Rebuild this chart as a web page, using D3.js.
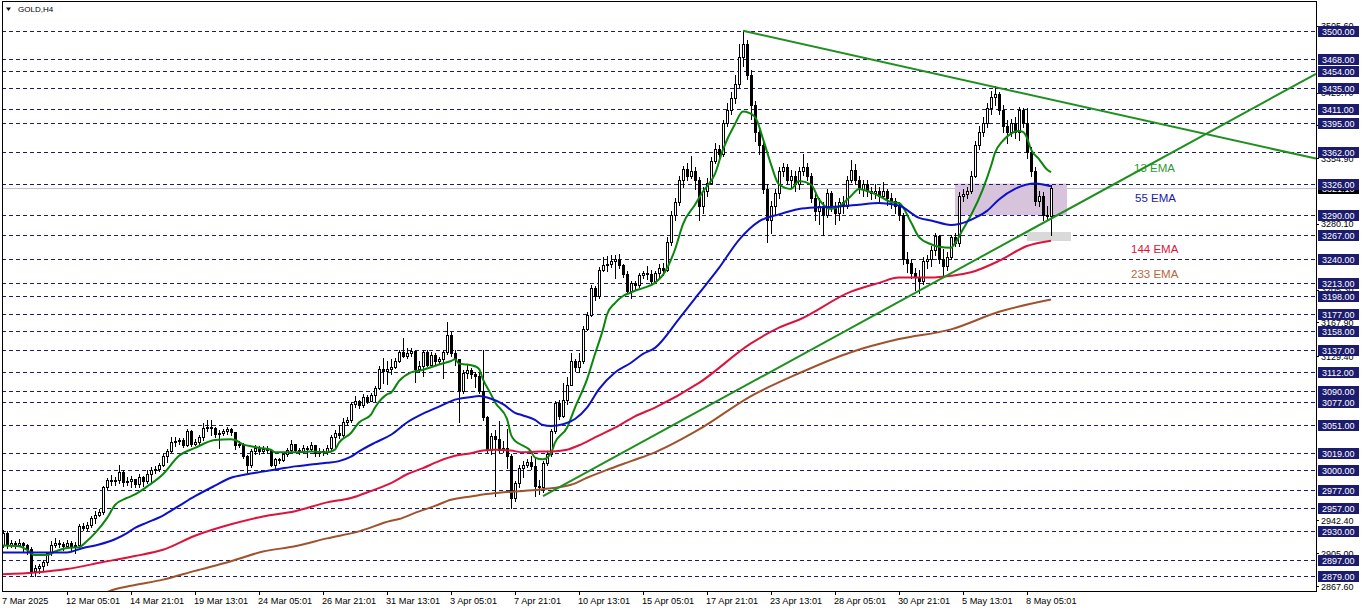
<!DOCTYPE html>
<html><head><meta charset="utf-8">
<script src="https://cdn.jsdelivr.net/npm/d3@7"></script>
<style>html,body{margin:0;padding:0;background:#fff;overflow:hidden}svg{display:block}</style>
</head><body>
<svg id="c" width="1362" height="611"></svg>
<script>
const symbolLabel = "GOLD,H4";
const firstOpen = 2915;
const closes = [
2928,2914,2917,2915,2917,2914,2910,2885,2888,2890,
2895,2905,2915,2917,2916,2913,2917,2913,2915,2936,
2934,2937,2945,2949,2952,2980,2989,2987,2988,2998,
2986,2987,2990,2984,2992,2987,2995,3000,3001,3006,
3016,3021,3032,3033,3034,3028,3044,3029,3032,3037,
3048,3049,3048,3041,3042,3044,3046,3043,3028,3030,
3016,3005,3022,3025,3021,3024,3023,3006,3012,3011,
3018,3023,3029,3023,3021,3025,3024,3028,3019,3022,
3020,3025,3038,3042,3040,3054,3057,3075,3078,3074,
3083,3079,3085,3093,3115,3113,3115,3117,3124,3134,
3130,3133,3135,3115,3118,3134,3120,3131,3124,3126,
3134,3154,3133,3126,3090,3110,3114,3109,3107,3090,
3060,3023,3039,3035,3023,3025,3016,2968,2985,3002,
3006,3009,3004,2982,2980,3008,3018,3044,3076,3061,
3080,3097,3124,3117,3124,3161,3176,3207,3198,3228,
3233,3234,3238,3240,3233,3223,3204,3213,3210,3222,
3224,3223,3215,3224,3230,3228,3260,3290,3305,3330,
3343,3335,3340,3330,3300,3318,3327,3352,3365,3360,
3395,3410,3424,3440,3470,3485,3450,3415,3385,3370,
3320,3285,3300,3315,3340,3345,3330,3335,3325,3340,
3345,3335,3310,3295,3300,3290,3315,3300,3292,3305,
3300,3330,3342,3330,3320,3325,3318,3315,3318,3312,
3318,3310,3306,3300,3290,3240,3236,3224,3220,3215,
3238,3240,3250,3266,3240,3232,3243,3265,3258,3312,
3314,3318,3335,3370,3385,3395,3412,3425,3428,3410,
3392,3385,3395,3385,3410,3395,3362,3340,3306,3312,
3290,3289,3321];
const highs = [
2931,2930,2920,2919,2921,2918,2916,2912,2892,2893,
2897,2907,2919,2922,2920,2918,2920,2919,2918,2938,
2940,2941,2948,2953,2956,2982,2991,2994,2992,3005,
3000,2992,2993,2990,2995,2993,3000,3003,3004,3008,
3018,3024,3038,3038,3036,3036,3046,3045,3035,3040,
3053,3057,3057,3049,3045,3047,3049,3048,3042,3033,
3031,3017,3024,3028,3027,3027,3027,3023,3014,3014,
3020,3025,3034,3030,3025,3028,3027,3032,3027,3025,
3024,3028,3040,3045,3051,3059,3060,3077,3084,3080,
3086,3085,3088,3096,3118,3127,3124,3126,3127,3136,
3150,3139,3139,3137,3124,3136,3136,3134,3133,3129,
3136,3168,3157,3136,3125,3114,3120,3116,3111,3110,
3137,3061,3042,3045,3056,3033,3046,3018,2987,3005,
3010,3012,3016,3014,2988,3010,3020,3046,3079,3080,
3099,3106,3133,3126,3133,3164,3180,3210,3209,3231,
3243,3244,3245,3245,3246,3235,3227,3215,3215,3224,
3227,3232,3228,3227,3234,3236,3265,3295,3310,3335,
3346,3350,3357,3345,3334,3322,3332,3356,3372,3370,
3398,3418,3430,3450,3485,3500,3490,3455,3420,3392,
3375,3325,3306,3320,3345,3350,3348,3342,3340,3345,
3360,3350,3338,3315,3310,3305,3320,3318,3305,3310,
3312,3335,3353,3348,3335,3330,3330,3322,3325,3322,
3328,3320,3315,3310,3305,3292,3248,3240,3230,3228,
3242,3245,3255,3270,3268,3252,3248,3268,3270,3316,
3320,3322,3340,3375,3392,3402,3418,3432,3437,3430,
3415,3398,3400,3402,3413,3412,3412,3368,3345,3318,
3316,3300,3324];
const lows = [
2912,2911,2912,2911,2913,2908,2904,2880,2879,2882,
2886,2892,2903,2912,2912,2909,2912,2909,2905,2913,
2931,2932,2935,2940,2947,2950,2978,2983,2983,2985,
2982,2983,2980,2981,2981,2982,2985,2986,2996,2999,
3004,3009,3020,3027,3030,3026,3027,3027,3028,3030,
3034,3044,3040,3038,3025,3040,3041,3040,3024,3026,
3014,2998,3003,3018,3018,3019,3019,3004,3002,3008,
3010,3016,3021,3020,3018,3019,3015,3022,3016,3016,
3017,3018,3022,3026,3036,3038,3051,3055,3072,3071,
3072,3076,3078,3078,3092,3099,3098,3109,3116,3123,
3128,3127,3130,3100,3112,3107,3118,3117,3121,3122,
3105,3132,3130,3120,3054,3088,3105,3105,3094,3088,
3057,3020,3018,2970,3020,3020,3002,2957,2964,2980,
2992,3003,3001,2970,2972,2975,3006,3016,3042,3058,
3060,3075,3098,3113,3112,3122,3159,3175,3194,3196,
3226,3227,3231,3219,3230,3220,3200,3196,3206,3208,
3219,3217,3212,3213,3220,3222,3226,3256,3284,3302,
3322,3330,3332,3320,3284,3292,3312,3325,3350,3352,
3358,3392,3405,3418,3436,3460,3445,3400,3375,3360,
3315,3260,3270,3290,3310,3335,3325,3322,3318,3320,
3336,3330,3305,3285,3280,3268,3288,3295,3280,3285,
3292,3298,3328,3325,3315,3312,3312,3308,3310,3305,
3310,3302,3298,3292,3285,3235,3225,3218,3205,3202,
3212,3230,3232,3245,3236,3222,3228,3240,3255,3255,
3306,3310,3315,3333,3365,3380,3390,3405,3415,3405,
3385,3372,3380,3378,3376,3390,3355,3335,3302,3300,
3284,3284,3268];

const timeLabelIdx = [0,16,32,48,64,80,96,112,128,144,160,176,192,208,224,240,256];
const timeLabels = ["7 Mar 2025","12 Mar 05:01","14 Mar 21:01","19 Mar 13:01","24 Mar 05:01","26 Mar 21:01","31 Mar 13:01","3 Apr 05:01","7 Apr 21:01","10 Apr 13:01","15 Apr 05:01","17 Apr 21:01","23 Apr 13:01","28 Apr 05:01","30 Apr 21:01","5 May 13:01","8 May 05:01"];

// scale labels that are not fully covered by the level boxes
const priceTicks = [3505.6,3429.7,3392.3,3354.9,3280.1,3205.3,3167.9,3129.4,2942.4,2905.0,2867.6];
const priceLevels = [3500,3468,3454,3435,3411,3395,3362,3326,3290,3267,3240,3213,3198,3177,3158,3137,3112,3090,3077,3051,3019,3000,2977,2957,2930,2897,2879];
const bidPrice = 3321.1;

const ema13 = [[0,2914],[4,2913],[6,2909],[8,2903],[11,2903],[13,2907],[16,2911],[19,2912],[21,2919],[23,2928],[26,2945],[28,2960],[31,2968],[33,2972],
[36,2981],[40,2995],[44,3016],[48,3025],[53,3034],[57,3035],[58,3034],[60,3029],[63,3026],
[64,3025],[67,3023],[68,3020],[73,3020],[77,3021],[81,3020],[83,3023],[84,3031],[87,3042],[89,3054],[92,3063],[93,3071],[96,3086],
[97,3088],[99,3101],[102,3111],[105,3114],[109,3120],[112,3124],[113,3126],[114,3121],[116,3120],[118,3118],[119,3115],[120,3103],[122,3086],[123,3077],[126,3058],[127,3040],[128,3033],
[129,3030],[132,3021],[133,3014],[135,3012],[137,3019],[138,3031],[141,3048],[143,3071],[146,3103],[148,3132],[150,3160],[151,3177],[153,3190],[155,3198],[157,3202],[158,3204],[160,3207],[163,3213],
[165,3222],[168,3251],[170,3280],[173,3302],[175,3317],[178,3337],[180,3365],[183,3394],[185,3408],[188,3402],[190,3377],[192,3348],[194,3325],[197,3320],[199,3329],[202,3325],[204,3308],[207,3297],[209,3300],[212,3312],[214,3320],[217,3316],[219,3312],[222,3305],
[224,3304],[227,3282],[229,3265],[232,3257],[234,3254],[237,3253],[238,3258],[240,3274],[242,3290],[245,3320],[247,3346],[248,3361],[250,3375],[252,3383],[254,3386],[255,3385],[256,3378],[257,3365],[259,3354],[261,3342],[262,3339]];
const ema55 = [[0,2906],[5,2906],[10,2906],[16,2906],[20,2911],[24,2915],[28,2921],[31,2928],[33,2934],
[36,2940],[40,2948],[44,2959],[48,2970],[53,2982],[57,2991],[61,2995],[65,2998],
[69,3001],[73,3004],[77,3006],[81,3008],[84,3010],[87,3015],[89,3021],[93,3031],[97,3040],
[101,3054],[105,3064],[109,3072],[113,3080],[117,3083],[119,3084],[122,3081],[125,3075],[128,3065],[130,3062],
[133,3057],[135,3051],[137,3050],[140,3052],[143,3058],[146,3071],[149,3092],[153,3111],[157,3122],[160,3132],[163,3139],
[169,3172],[174,3201],[179,3230],[184,3262],[189,3283],[194,3291],[199,3297],[204,3299],[209,3300],[214,3302],[219,3304],
[224,3301],[229,3287],[232,3284],[237,3279],[239,3280],[243,3287],[246,3295],[249,3308],[253,3320],[258,3326],[260,3325],[262,3323]];
const ema144 = [[0,2881],[8,2883],[16,2887],[25,2895],[33,2902],
[40,2909],[48,2925],[57,2938],[65,2947],
[73,2953],[81,2963],[87,2968],[92,2976],[97,2985],
[101,2995],[105,3002],[109,3010],[113,3016],[117,3019],[120,3022],[123,3023],[127,3022],[130,3020],
[134,3021],[137,3021],[141,3023],[144,3028],[148,3037],[153,3048],[158,3061],[163,3071],
[174,3099],[187,3144],[194,3162],[199,3171],[212,3203],[219,3213],
[224,3219],[232,3219],[237,3221],[242,3225],[249,3238],[256,3255],[262,3261]];
const ema233 = [[24,2857],[28,2864],[33,2869],
[40,2875],[48,2885],[57,2896],[65,2907],
[73,2913],[81,2922],[89,2930],[97,2942],
[99,2944],[103,2951],[108,2959],[112,2966],[116,2969],[120,2972],[124,2974],[130,2976],
[135,2978],[142,2983],[146,2991],[151,3000],[157,3010],[163,3020],
[174,3046],[187,3084],[199,3110],[212,3134],[224,3149],[237,3160],[249,3180],[262,3194]];

const emaNames = ["13 EMA","55 EMA","144 EMA","233 EMA"];
const emaColors = ["#0a860a","#0c10c8","#dc143c","#a0522d"];
const emaLabelColors = ["#2f9a2f","#1a1aa8","#dc143c","#b8663c"];
const emaLabelAt = [[282.75,3339],[283,3305],[282,3247],[282,3218.5]];

const trendLower = [[135,2970],[229,3204]];
const trendUpper = [[185,3500],[248,3436]];
const zoneBox = [[238,3326],[266,3290]];
const grayBox = [[256,3271],[267,3260.5]];

const FONT = "'Liberation Sans', Arial, sans-serif";
const plotL = 2, plotT = 1, plotR = 1316, plotB = 591;
const x = d3.scaleLinear().domain([0, 328.25]).range([3, 1316]);
const y = d3.scaleLinear().domain([2879, 3500]).range([576.13, 30.83]);
const lastIdx = 328.25;

const svg = d3.select("#c");
svg.append("rect").attr("width",1362).attr("height",611).attr("fill","#fff");
svg.append("defs").append("clipPath").attr("id","clip")
  .append("rect").attr("x",plotL+1).attr("y",plotT+1).attr("width",plotR-plotL-1).attr("height",plotB-plotT-1);
const plot = svg.append("g").attr("clip-path","url(#clip)");

// bid line
const by = Math.round(y(bidPrice)) + 0.5;
plot.append("line").attr("x1",plotL).attr("x2",plotR).attr("y1",by).attr("y2",by)
  .attr("stroke","#c0c0c0").attr("stroke-width",1);
// zone rectangle
plot.append("rect")
  .attr("x", x(zoneBox[0][0])).attr("y", y(zoneBox[0][1]))
  .attr("width", x(zoneBox[1][0]) - x(zoneBox[0][0]))
  .attr("height", y(zoneBox[1][1]) - y(zoneBox[0][1]))
  .attr("fill","#d8c3dc");

// dashed levels
plot.selectAll("line.lvl").data(priceLevels).enter().append("line")
  .attr("class","lvl")
  .attr("x1",plotL).attr("x2",plotR)
  .attr("y1",d=>Math.round(y(d))+0.5).attr("y2",d=>Math.round(y(d))+0.5)
  .attr("stroke","#1c1c6e").attr("stroke-width",1).attr("stroke-dasharray","4,3")
  .attr("shape-rendering","crispEdges");

plot.append("rect")
  .attr("x", x(grayBox[0][0])).attr("y", Math.round(y(grayBox[0][1])))
  .attr("width", x(grayBox[1][0]) - x(grayBox[0][0]))
  .attr("height", Math.round(y(grayBox[1][1])) - Math.round(y(grayBox[0][1])))
  .attr("fill","#d9d9d9");

// EMA labels
emaNames.forEach((n,k)=>{
  plot.append("text").attr("x", x(emaLabelAt[k][0])).attr("y", y(emaLabelAt[k][1]))
    .attr("font-family",FONT).attr("font-size","11.5px").attr("fill",emaLabelColors[k]).text(n);
});

// candles
const candles = closes.map((c,i)=>{
  const o = i === 0 ? firstOpen : closes[i-1];
  return {i, o, c, h: Math.max(highs[i], o, c), l: Math.min(lows[i], o, c)};
});
const cg = plot.append("g").attr("shape-rendering","crispEdges");
candles.forEach(d=>{
  const xc = Math.round(x(d.i));
  const yh = Math.round(y(d.h)), yl = Math.round(y(d.l));
  cg.append("rect").attr("x",xc).attr("y",yh).attr("width",1).attr("height",Math.max(1,yl-yh+1)).attr("fill","#000");
  const top = Math.round(y(Math.max(d.o,d.c))), bot = Math.round(y(Math.min(d.o,d.c)));
  if (bot - top < 1) {
    cg.append("rect").attr("x",xc-1).attr("y",top).attr("width",3).attr("height",1).attr("fill","#000");
  } else {
    cg.append("rect").attr("x",xc-0.5).attr("y",top+0.5).attr("width",2).attr("height",bot-top)
      .attr("fill", d.c >= d.o ? "#fff" : "#000").attr("stroke","#000").attr("stroke-width",1);
  }
});

// EMA lines
const line = d3.line().x(d=>x(d[0])).y(d=>y(d[1])).curve(d3.curveMonotoneX);
[ema13, ema55, ema144, ema233].forEach((s,k)=>{
  plot.append("path").attr("d", line(s)).attr("fill","none")
    .attr("stroke", emaColors[k]).attr("stroke-width", 2).attr("stroke-linejoin","round");
});

// trendlines (rays to the right edge)
function ray(p){
  const s = (p[1][1]-p[0][1])/(p[1][0]-p[0][0]);
  return [[p[0][0],p[0][1]],[lastIdx, p[0][1] + s*(lastIdx-p[0][0])]];
}
[trendLower, trendUpper].forEach(t=>{
  const r = ray(t);
  plot.append("line").attr("x1",x(r[0][0])).attr("y1",y(r[0][1])).attr("x2",x(r[1][0])).attr("y2",y(r[1][1]))
    .attr("stroke","#1f8f1f").attr("stroke-width",2);
});

// frame
svg.append("rect").attr("x",2.5).attr("y",1.5).attr("width",1314).attr("height",590)
  .attr("fill","none").attr("stroke","#000").attr("stroke-width",1).attr("shape-rendering","crispEdges");

// symbol label
svg.append("path").attr("d","M6,7.5 L11,7.5 L8.5,11 Z").attr("fill","#111");
svg.append("text").attr("x",18).attr("y",12).attr("font-family",FONT).attr("font-size","8px").attr("fill","#000").text(symbolLabel);

// right price axis
const ya = svg.append("g").attr("transform","translate(1316,0)")
  .call(d3.axisRight(y).tickValues(priceTicks).tickFormat(d=>d.toFixed(2)).tickSize(3).tickPadding(2));
ya.select(".domain").remove();
ya.selectAll("text").attr("font-family",FONT).attr("font-size","9px").attr("fill","#000");
ya.selectAll("line").attr("stroke","#000").attr("shape-rendering","crispEdges");

// bid label (black)
const bidRow = Math.round(y(bidPrice));
svg.append("rect").attr("x",1318).attr("y",bidRow-5).attr("width",41).attr("height",11).attr("fill","#000");
svg.append("text").attr("x",1322).attr("y",bidRow+3.8).attr("font-family",FONT).attr("font-size","9px").attr("fill","#fff").text(bidPrice.toFixed(2));

// level labels (navy boxes)
const lg = svg.append("g");
priceLevels.forEach(v=>{
  const r = Math.round(y(v));
  lg.append("rect").attr("x",1318).attr("y",r-5).attr("width",41).attr("height",11).attr("fill","#1c1c6e");
  lg.append("text").attr("x",1322).attr("y",r+3.8).attr("font-family",FONT).attr("font-size","9px").attr("fill","#fff").text(v.toFixed(2));
});

// bottom time axis
const xa = svg.append("g").attr("transform","translate(0,"+plotB+")")
  .call(d3.axisBottom(x).tickValues(timeLabelIdx).tickFormat((d,k)=>timeLabels[k]).tickSize(4).tickPadding(3));
xa.select(".domain").remove();
xa.selectAll("line").attr("stroke","#000").attr("shape-rendering","crispEdges");
xa.selectAll(".tick").filter(d=>d===0).select("line").remove();
xa.selectAll("text").attr("font-family",FONT).attr("font-size","9.2px").attr("fill","#000")
  .attr("text-anchor","start").attr("dx","-1.5px").attr("dy","0.62em");
</script>
</body></html>
